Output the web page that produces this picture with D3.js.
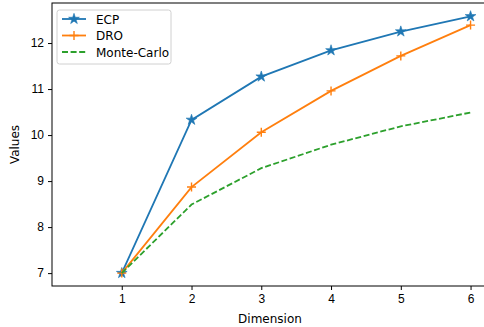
<!DOCTYPE html>
<html>
<head>
<meta charset="utf-8">
<script src="https://cdn.jsdelivr.net/npm/d3@7"></script>
<style>
  body { margin: 0; background: #fff; }
  svg { font-family: "DejaVu Sans", sans-serif; }
  .axis text { font-size: 12px; fill: #000; }
  .axis path, .axis line { stroke: #000; stroke-width: 1; }
</style>
</head>
<body>
<div id="chart"></div>
<script>
//data
var dims = [1, 2, 3, 4, 5, 6];
var ecp = [7.0, 10.33, 11.27, 11.84, 12.25, 12.58];
var dro = [7.0, 8.87, 10.06, 10.96, 11.72, 12.39];
var monteCarlo = [7.0, 8.49, 9.28, 9.79, 10.19, 10.49];
var xTicks = [1, 2, 3, 4, 5, 6];
var yTicks = [7, 8, 9, 10, 11, 12];

var series = [
  {name: "ECP", values: ecp, color: "#1f77b4", marker: "star", dash: null},
  {name: "DRO", values: dro, color: "#ff7f0e", marker: "plus", dash: null},
  {name: "Monte-Carlo", values: monteCarlo, color: "#2ca02c", marker: null, dash: "6,2.6"}
];

var W = 484, H = 327;
var margin = {top: 3, left: 52, bottom: 41};
var height = H - margin.top - margin.bottom;

//set ranges
var x = d3.scaleLinear().domain([0, 6.25]).range([0, 436]);
var y = d3.scaleLinear().domain([6.72, 12.87]).range([height, 0]);

var svg = d3.select("#chart").append("svg")
    .attr("width", W)
    .attr("height", H);

var g = svg.append("g")
    .attr("transform", "translate(" + margin.left + "," + margin.top + ")");

//frame
g.append("rect")
  .attr("x", 0).attr("y", 0)
  .attr("width", x(6.25)).attr("height", height)
  .attr("fill", "none")
  .attr("stroke", "#000")
  .attr("stroke-width", 1);

//axes
g.append("g")
    .attr("class", "axis")
    .attr("transform", "translate(0," + height + ")")
    .call(d3.axisBottom(x).tickValues(xTicks).tickSize(4).tickPadding(4).tickFormat(d3.format("d")))
    .call(function(a) { a.select(".domain").remove(); });

g.append("g")
    .attr("class", "axis")
    .call(d3.axisLeft(y).tickValues(yTicks).tickSize(4).tickPadding(4).tickFormat(d3.format("d")))
    .call(function(a) { a.select(".domain").remove(); });

//axis labels
svg.append("text")
  .attr("x", margin.left + x(6.25) / 2)
  .attr("y", 323)
  .attr("text-anchor", "middle")
  .attr("font-size", 12)
  .text("Dimension");

svg.append("text")
  .attr("transform", "translate(19," + (margin.top + height / 2) + ") rotate(-90)")
  .attr("text-anchor", "middle")
  .attr("font-size", 12)
  .text("Values");

var line = d3.line()
  .x(function(d, i) { return x(dims[i]); })
  .y(function(d) { return y(d); });

var star = d3.symbol().type(d3.symbolStar).size(36);
var plus = "M-4.5,0H4.5M0,-4.5V4.5";

function drawMarker(sel, s) {
  if (s.marker == "star") {
    sel.append("path").attr("d", star()).attr("fill", s.color).attr("stroke", s.color).attr("stroke-width", 0.6);
  } else if (s.marker == "plus") {
    sel.append("path").attr("d", plus).attr("fill", "none").attr("stroke", s.color).attr("stroke-width", 1.4);
  }
}

//draw lines
series.forEach(function(s) {
  g.append("path")
    .datum(s.values)
    .attr("fill", "none")
    .attr("stroke", s.color)
    .attr("stroke-width", 1.8)
    .attr("stroke-dasharray", s.dash)
    .attr("d", line);

  if (s.marker) {
    g.selectAll(null)
      .data(s.values)
      .enter().append("g")
        .attr("transform", function(d, i) { return "translate(" + x(dims[i]) + "," + y(d) + ")"; })
        .each(function() { drawMarker(d3.select(this), s); });
  }
});

//legend
var legend = svg.append("g").attr("transform", "translate(57,10)");
legend.append("rect")
  .attr("width", 114).attr("height", 54)
  .attr("rx", 2.5)
  .attr("fill", "#fff").attr("fill-opacity", 0.8)
  .attr("stroke", "#d0d0d0").attr("stroke-width", 1);

var item = legend.selectAll(".item")
    .data(series)
  .enter().append("g")
    .attr("class", "item")
    .attr("transform", function(d, i) { return "translate(0," + (9 + i * 16.5) + ")"; });

item.append("line")
  .attr("x1", 5).attr("x2", 29)
  .attr("stroke", function(d) { return d.color; })
  .attr("stroke-width", 1.8)
  .attr("stroke-dasharray", function(d) { return d.dash; });

item.append("g")
  .attr("transform", "translate(17,0)")
  .each(function(d) { drawMarker(d3.select(this), d); });

item.append("text")
  .attr("x", 39)
  .attr("y", 4.5)
  .attr("font-size", 12)
  .text(function(d) { return d.name; });
</script>
</body>
</html>
